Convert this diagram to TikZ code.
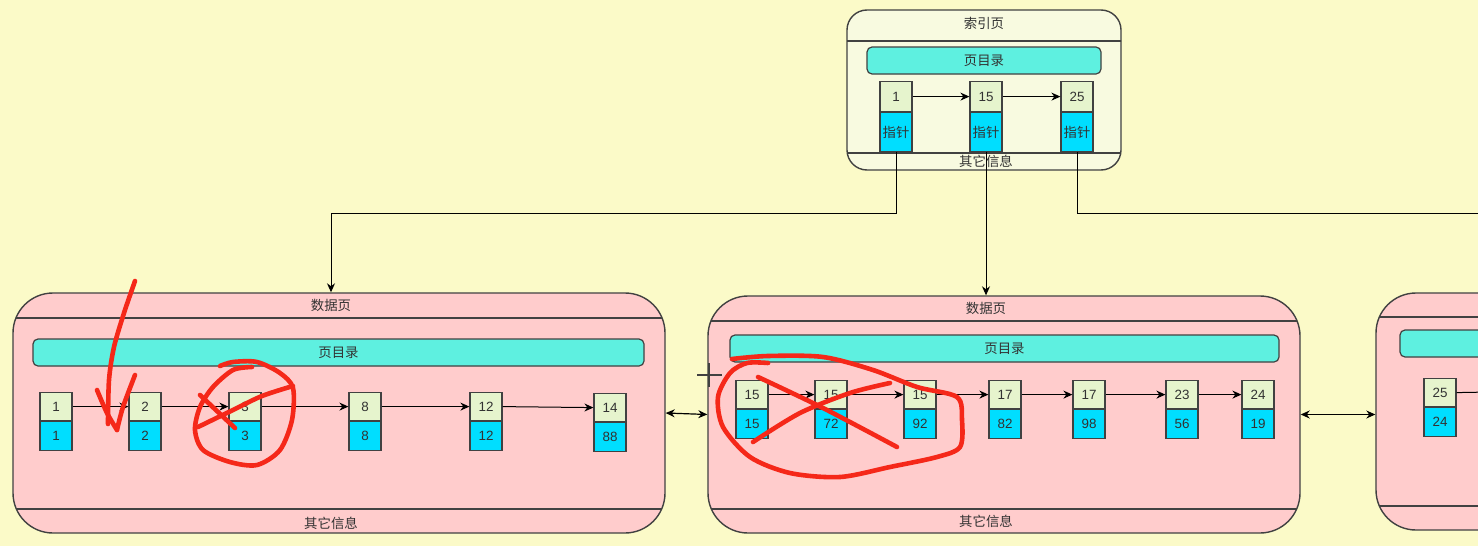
\documentclass[tikz,border=0pt]{standalone}
\usepackage{fontspec}
\setmainfont{Liberation Sans}
\newfontfamily\cjk{Noto Sans CJK SC}
\usetikzlibrary{arrows.meta,calc}
\definecolor{bgc}{RGB}{251,250,200}
\definecolor{idxfill}{RGB}{248,250,224}
\definecolor{pagefill}{RGB}{255,204,204}
\definecolor{dirfill}{RGB}{94,240,224}
\definecolor{topfill}{RGB}{230,244,205}
\definecolor{botfill}{RGB}{0,222,255}
\definecolor{edgec}{RGB}{65,65,65}
\definecolor{txtc}{RGB}{50,50,50}
\definecolor{pen}{RGB}{245,40,25}
\tikzset{
  pagebox/.style={draw=edgec, line width=0.7pt, rounded corners=20pt, fill=pagefill, inner sep=0pt},
  sepline/.style={draw=edgec, line width=0.6pt},
  txt/.style={font=\fontsize{6.7}{7}\selectfont, text=txtc, inner sep=0pt},
  dirbox/.style={draw=edgec, line width=0.6pt, fill=dirfill, rounded corners=2.5pt, minimum height=13.5pt, inner sep=0pt, font=\fontsize{6.7}{7}\selectfont\cjk, text=txtc},
  topc/.style={draw=edgec, line width=0.6pt, fill=topfill, minimum width=16pt, minimum height=14pt, inner sep=0pt, font=\fontsize{6.7}{7}\selectfont, text=txtc, anchor=north},
  botc/.style={draw=edgec, line width=0.6pt, fill=botfill, minimum width=16pt, minimum height=14.5pt, inner sep=0pt, font=\fontsize{6.7}{7}\selectfont, text=txtc, anchor=north},
  link/.style={draw=black, line width=0.5pt, -{Stealth[length=4.5pt,width=4pt]}},
  dlink/.style={draw=black, line width=0.6pt, {Stealth[length=4.5pt,width=4pt]}-{Stealth[length=4.5pt,width=4pt]}},
  redpen/.style={draw=pen, line width=2.3pt, line cap=round, line join=round},
}
\newcommand\mkcell[5]{%
  \node[topc] (#1T) at (#2,#3) {#4};
  \node[botc] (#1B) at (#1T.south) {#5};}
\newcommand\mkicell[4]{%
  \node[topc, minimum height=15pt] (#1T) at (#2,#3) {#4};
  \node[botc, minimum height=19.5pt, font=\fontsize{6.7}{7}\selectfont\cjk] (#1B) at (#1T.south) {指针};}
\begin{document}
\begin{tikzpicture}[x=0.5pt,y=-0.5pt]
\useasboundingbox (0,0) rectangle (1478,546);
\clip (0,0) rectangle (1478,546);
\fill[bgc] (0,0) rectangle (1478,546);

% ---------- index page ----------
\node[pagebox, fill=idxfill, rounded corners=10pt, minimum width=137pt, minimum height=80pt] (ip) at (984,90) {};
\begin{scope}
  \clip[rounded corners=10pt] (847,10) rectangle (1121,170);
  \draw[sepline] (840,41) -- (1130,41);
  \draw[sepline] (840,153) -- (1130,153);
\end{scope}
\node[txt] (ipT) at (984,23) {\cjk 索引页};
\node[dirbox, minimum width=117pt] (ipD) at (984,60.5) {页目录};
\mkicell{ia}{896}{81}{1}
\mkicell{ib}{986}{81}{15}
\mkicell{ic}{1077}{81}{25}
\node[txt] (ipO) at (986,161.5) {\cjk 其它信息};
\draw[link] (iaT.east) -- (ibT.west);
\draw[link] (ibT.east) -- (icT.west);

% ---------- data page 1 ----------
\node[pagebox, minimum width=326pt, minimum height=120pt] (p1) at (339,413) {};
\begin{scope}
  \clip[rounded corners=20pt] (13,293) rectangle (665,533);
  \draw[sepline] (0,318) -- (700,318);
  \draw[sepline] (0,509) -- (700,509);
\end{scope}
\node[txt] (p1T) at (331,305.5) {\cjk 数据页};
\node[dirbox, minimum width=305.5pt] (p1D) at (338.5,352.5) {页目录};
\node[txt] (p1O) at (331,523) {\cjk 其它信息};
\mkcell{a1}{56}{392}{1}{1}
\mkcell{a2}{145}{392}{2}{2}
\mkcell{a3}{245}{392}{3}{3}
\mkcell{a4}{365}{392}{8}{8}
\mkcell{a5}{486}{392}{12}{12}
\mkcell{a6}{610}{393}{14}{88}
\draw[link] (a1T.east) -- (a2T.west);
\draw[link] (a2T.east) -- (a3T.west);
\draw[link] (a3T.east) -- (a4T.west);
\draw[link] (a4T.east) -- (a5T.west);
\draw[link] (a5T.east) -- (a6T.west);

% ---------- data page 2 ----------
\node[pagebox, minimum width=296pt, minimum height=118.5pt] (p2) at (1004,414.5) {};
\begin{scope}
  \clip[rounded corners=20pt] (708,296) rectangle (1300,533);
  \draw[sepline] (700,321) -- (1310,321);
  \draw[sepline] (700,509) -- (1310,509);
\end{scope}
\node[txt] (p2T) at (986,308.5) {\cjk 数据页};
\node[dirbox, minimum width=274.5pt] (p2D) at (1004.5,348.5) {页目录};
\node[txt] (p2O) at (986,521) {\cjk 其它信息};
\mkcell{b1}{752}{380}{15}{15}
\mkcell{b2}{831}{380}{15}{72}
\mkcell{b3}{920}{380}{15}{92}
\mkcell{b4}{1005}{380}{17}{82}
\mkcell{b5}{1089}{380}{17}{98}
\mkcell{b6}{1182}{380}{23}{56}
\mkcell{b7}{1258}{380}{24}{19}
\draw[link] (b1T.east) -- (b2T.west);
\draw[link] (b2T.east) -- (b3T.west);
\draw[link] (b3T.east) -- (b4T.west);
\draw[link] (b4T.east) -- (b5T.west);
\draw[link] (b5T.east) -- (b6T.west);
\draw[link] (b6T.east) -- (b7T.west);

% ---------- data page 3 (partly visible) ----------
\node[pagebox, minimum width=212pt, minimum height=118.5pt] (p3) at (1588,411.5) {};
\begin{scope}
  \clip[rounded corners=20pt] (1376,293) rectangle (1800,530);
  \draw[sepline] (1370,317) -- (1810,317);
  \draw[sepline] (1370,506) -- (1810,506);
\end{scope}
\node[dirbox, minimum width=250pt] (p3D) at (1650,343.5) {};
\mkcell{c1}{1440}{378}{25}{24}
\coordinate (c3off) at (1490,392);
\draw[line width=0.5pt] (c1T.east) -- (c3off);

% ---------- links between pages ----------
\draw[dlink] (p1.east) -- (p2.west);
\draw[dlink] (p2.east) -- (p2.east -| p3.west);

\coordinate (k1) at (331,213);
\draw[link] (iaB.south) |- (k1) -- (k1 |- p1.north);
\draw[link] (ibB.south) -- (ibB.south |- p2.north);
\coordinate (k3) at (1490,213);
\draw[line width=0.5pt] (icB.south) |- (k3);

% cursor mark
\draw[edgec, line width=0.7pt] (697,375) -- (722,375);
\draw[edgec, line width=0.7pt] (709,363) -- (709,387);

% ---------- red hand annotations ----------
\draw[redpen] plot[smooth] coordinates {(135,281) (124,313) (114,347) (109,380) (108,424)};
\draw[redpen] plot[smooth] coordinates {(97,390) (107,413) (117,430)};
\draw[redpen] plot[smooth] coordinates {(117,430) (123,407) (135,375)};

\draw[redpen] plot[smooth] coordinates {(220,366) (233,362) (257,362) (280,373) (293,388) (292,420) (280,450) (257,465) (230,462) (203,450) (195,430) (200,407) (213,387) (233,370) (252,367)};
\draw[redpen] plot[smooth] coordinates {(200,395) (218,412) (235,428)};
\draw[redpen] plot[smooth] coordinates {(198,427) (233,410) (262,396) (293,386)};

\draw[redpen] plot[smooth] coordinates {(732,359) (768,356) (823,357) (873,370) (917,387) (957,397) (962,420) (960,447) (937,457) (890,467) (840,477) (790,473) (750,457) (723,427) (718,397) (730,373) (747,363) (768,363)};
\draw[redpen] plot[smooth] coordinates {(758,377) (823,408) (897,447)};
\draw[redpen] plot[smooth] coordinates {(753,442) (800,413) (850,393) (890,383)};
\end{tikzpicture}
\end{document}
